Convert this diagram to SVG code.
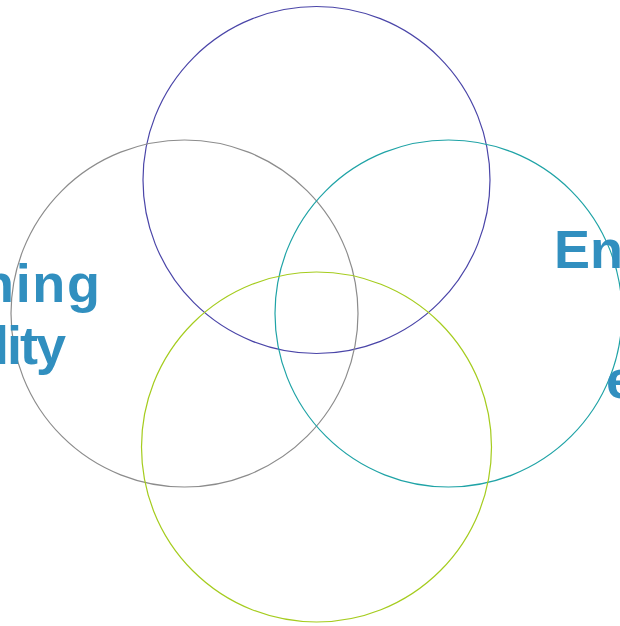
<svg xmlns="http://www.w3.org/2000/svg" width="620" height="626" viewBox="0 0 620 626">
  <style>
    .ring { fill: none; stroke-width: 1.2; }
    .label { font-family: "Liberation Sans", Arial, sans-serif; font-weight: bold; font-size: 54px; fill: #318fbf; }
  </style>
  <rect width="620" height="626" fill="#ffffff"/>
  <g id="circle-top">
    <circle class="ring" cx="316.5" cy="180" r="173.5" stroke="#4a45a8"/>
  </g>
  <g id="circle-left">
    <circle class="ring" cx="184.5" cy="313.5" r="173.5" stroke="#8c8c8c"/>
    <text class="label" x="-19" y="302" textLength="119" lengthAdjust="spacing">ning</text>
    <text class="label" x="-6" y="364" textLength="72" lengthAdjust="spacing">lity</text>
  </g>
  <g id="circle-right">
    <circle class="ring" cx="448.5" cy="313.5" r="173.5" stroke="#1fa3a6"/>
    <text class="label" x="554" y="268">En</text>
    <text class="label" x="606" y="398">e</text>
  </g>
  <g id="circle-bottom">
    <circle class="ring" cx="316.5" cy="447" r="175" stroke="#a5cc1e"/>
  </g>
  <g id="connectors"/>
</svg>
